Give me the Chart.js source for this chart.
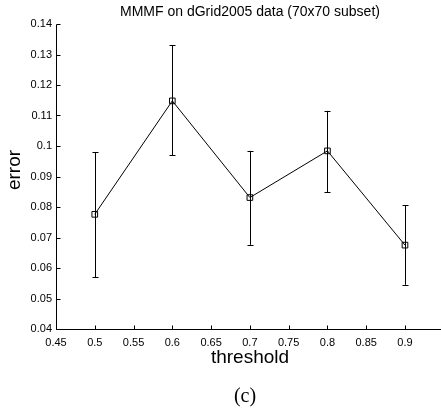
<!DOCTYPE html>
<html>
<head>
<meta charset="utf-8">
<script src="https://cdn.jsdelivr.net/npm/chart.js@4/dist/chart.umd.min.js"></script>
<style>
html,body{margin:0;padding:0;background:#fff;}
#wrap{position:relative;width:441px;height:415px;}
</style>
</head>
<body>
<div id="wrap"><canvas id="c" width="441" height="415"></canvas></div>
<script>
const thresholds = [0.5, 0.6, 0.7, 0.8, 0.9];
const errorMean  = [0.0776, 0.1148, 0.0831, 0.0984, 0.0675];
const errorUpper = [0.0980, 0.1331, 0.0984, 0.1115, 0.0805];
const errorLower = [0.0569, 0.0970, 0.0676, 0.0849, 0.0545];
const xTicks = [0.45, 0.5, 0.55, 0.6, 0.65, 0.7, 0.75, 0.8, 0.85, 0.9];
const yTicks = [0.04, 0.05, 0.06, 0.07, 0.08, 0.09, 0.1, 0.11, 0.12, 0.13, 0.14];
const chartTitle = 'MMMF on dGrid2005 data (70x70 subset)';
const xTitle = 'threshold';
const yTitle = 'error';
const caption = '(c)';

const FONT = '"Liberation Sans", Arial, Helvetica, sans-serif';

const decor = {
  id: 'decor',
  afterDatasetsDraw(chart) {
    const ctx = chart.ctx;
    const xs = chart.scales.x, ys = chart.scales.y;
    ctx.save();
    ctx.strokeStyle = '#000';
    ctx.lineWidth = 1;
    thresholds.forEach((t, i) => {
      const px = Math.round(xs.getPixelForValue(t)) + 0.5;
      const pu = ys.getPixelForValue(errorUpper[i]);
      const pl = ys.getPixelForValue(errorLower[i]);
      ctx.beginPath();
      ctx.moveTo(px, pu); ctx.lineTo(px, pl);
      ctx.moveTo(px - 3, Math.round(pu) + 0.5); ctx.lineTo(px + 3, Math.round(pu) + 0.5);
      ctx.moveTo(px - 3, Math.round(pl) + 0.5); ctx.lineTo(px + 3, Math.round(pl) + 0.5);
      ctx.stroke();
    });
    ctx.restore();
  },
  afterDraw(chart) {
    const ctx = chart.ctx;
    const xs = chart.scales.x, ys = chart.scales.y;
    const a = chart.chartArea;
    ctx.save();
    ctx.strokeStyle = '#000';
    ctx.lineWidth = 1;
    const bx = Math.round(a.left) + 0.5;
    const by = Math.round(a.bottom) + 0.5;
    const topY = Math.round(ys.getPixelForValue(yTicks[yTicks.length - 1])) + 0.5;
    ctx.beginPath();
    ctx.moveTo(bx, topY); ctx.lineTo(bx, by); ctx.lineTo(chart.width, by);
    yTicks.forEach(v => {
      const py = Math.round(ys.getPixelForValue(v)) + 0.5;
      ctx.moveTo(bx, py); ctx.lineTo(bx + 4, py);
    });
    xTicks.forEach(v => {
      const px = Math.round(xs.getPixelForValue(v)) + 0.5;
      ctx.moveTo(px, by); ctx.lineTo(px, by - 4);
    });
    ctx.stroke();

    ctx.fillStyle = '#000';
    ctx.textAlign = 'center';
    ctx.textBaseline = 'middle';
    ctx.font = '14px ' + FONT;
    ctx.fillText(chartTitle, 250, 12);
    ctx.font = '19px ' + FONT;
    ctx.fillText(xTitle, 250, 358);
    ctx.save();
    ctx.translate(15, 170);
    ctx.rotate(-Math.PI / 2);
    ctx.fillText(yTitle, 0, 0);
    ctx.restore();
    ctx.font = '20px "Liberation Serif", "Times New Roman", serif';
    ctx.fillText(caption, 245, 397);
    ctx.restore();
  }
};

new Chart(document.getElementById('c'), {
  type: 'line',
  data: {
    datasets: [{
      data: thresholds.map((t, i) => ({x: t, y: errorMean[i]})),
      borderColor: '#000',
      borderWidth: 1,
      backgroundColor: 'rgba(0,0,0,0)',
      pointStyle: 'rect',
      pointRadius: 4,
      pointBorderColor: '#000',
      pointBorderWidth: 1,
      pointBackgroundColor: 'rgba(0,0,0,0)',
      tension: 0,
      fill: false
    }]
  },
  options: {
    responsive: false,
    animation: false,
    devicePixelRatio: 1,
    layout: {padding: {top: 24, right: 0, bottom: 0, left: 0}},
    plugins: {legend: {display: false}, tooltip: {enabled: false}, title: {display: false}},
    scales: {
      x: {
        type: 'linear',
        min: 0.45,
        max: 0.94,
        afterBuildTicks(s) { s.ticks = xTicks.map(v => ({value: v})); },
        afterFit(s) { s.height = 86; s.paddingLeft = 0; s.paddingRight = 0; },
        grid: {display: false, drawTicks: false},
        border: {display: false},
        ticks: {
          padding: 7,
          color: '#000',
          maxRotation: 0,
          autoSkip: false,
          font: {family: FONT, size: 11},
          callback: v => String(+Number(v).toFixed(3))
        }
      },
      y: {
        type: 'linear',
        min: 0.04,
        max: 0.14,
        afterBuildTicks(s) { s.ticks = yTicks.map(v => ({value: v})); },
        afterFit(s) { s.width = 56; s.paddingTop = 0; s.paddingBottom = 0; },
        grid: {display: false, drawTicks: false},
        border: {display: false},
        ticks: {
          padding: 4,
          color: '#000',
          autoSkip: false,
          font: {family: FONT, size: 11},
          callback: v => String(+Number(v).toFixed(3))
        }
      }
    }
  },
  plugins: [decor]
});
</script>
</body>
</html>
